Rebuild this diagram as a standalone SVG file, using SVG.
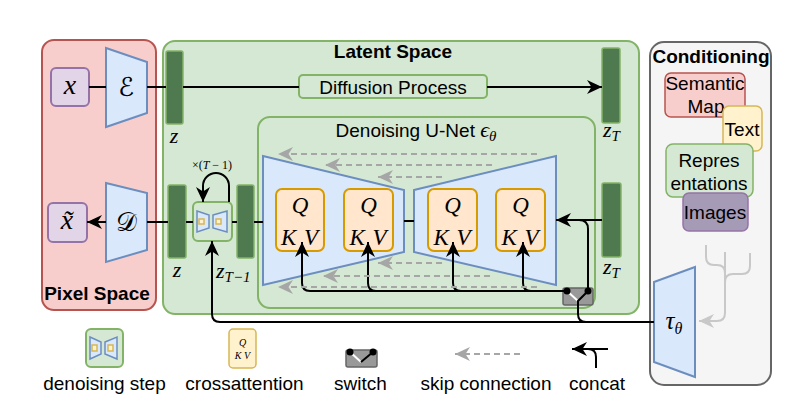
<svg xmlns="http://www.w3.org/2000/svg" width="792" height="409" viewBox="0 0 792 409">
<defs>
<marker id="arr" markerUnits="userSpaceOnUse" markerWidth="16" markerHeight="14" refX="15" refY="7" orient="auto"><path d="M0,0 L15,7 L0,14 L4.5,7 Z" fill="#000"/></marker>
<marker id="arrg" markerUnits="userSpaceOnUse" markerWidth="16" markerHeight="14" refX="15" refY="7" orient="auto"><path d="M0,0 L15,7 L0,14 L4.5,7 Z" fill="#a6a6a6"/></marker>
<marker id="arrl" markerUnits="userSpaceOnUse" markerWidth="16" markerHeight="14" refX="15" refY="7" orient="auto"><path d="M0,0 L15,7 L0,14 L4.5,7 Z" fill="#c8c8c8"/></marker>
</defs>
<style>
.sans{font-family:"Liberation Sans",Arial,sans-serif;font-size:19px;fill:#000}
.b{font-weight:bold}
.m{font-family:"Liberation Serif","DejaVu Serif",serif;font-style:italic;fill:#000}
.cal{font-family:"DejaVu Serif","DejaVu Sans","Noto Sans",serif;fill:#000}
.bar{fill:#4f7a50;stroke:#82b366;stroke-width:1.5}
.blue{fill:#dae8fc;stroke:#6c8ebf;stroke-width:2}
.qkv{fill:#ffe6cc;stroke:#d79b00;stroke-width:2}
.yel{fill:#fff2cc;stroke:#d6b656;stroke-width:1.5}
.grn{fill:#d5e8d4;stroke:#82b366;stroke-width:2}
.pur{fill:#e1d5e7;stroke:#9673a6;stroke-width:2}
.sw{fill:#999;stroke:#666;stroke-width:1.5}
.ln{fill:none;stroke:#000;stroke-width:2}
.skip{fill:none;stroke:#a6a6a6;stroke-width:2;stroke-dasharray:6 4}
.tree{fill:none;stroke:#c8c8c8;stroke-width:2}
</style>

<g id="pixel-space">
<rect x="42" y="40" width="114" height="270" rx="12" fill="#f8cecc" stroke="#b85450" stroke-width="2"/>
<text x="97" y="300" text-anchor="middle" class="sans b">Pixel Space</text>
</g>
<g id="latent-space">
<rect x="163" y="41" width="476" height="273" rx="12" class="grn"/>
<text x="393" y="58" text-anchor="middle" class="sans b">Latent Space</text>
</g>
<g id="conditioning">
<rect x="650" y="42" width="121" height="343" rx="14" fill="#f5f5f5" stroke="#666" stroke-width="2"/>
<text x="711" y="63" text-anchor="middle" class="sans b">Conditioning</text>
</g>

<g id="unet">
<rect x="258" y="117" width="337" height="191" rx="12" class="grn"/>
<text x="416" y="137" text-anchor="middle" class="sans">Denoising U-Net <tspan class="m" font-size="22">ϵ</tspan><tspan class="m" font-size="15" dy="4">θ</tspan></text>
<polygon points="263,156 404,190 404,252 263,285" class="blue"/>
<polygon points="414,190 556,156 556,285 414,252" class="blue"/>
</g>

<g id="qkv1"><rect x="276" y="189" width="48" height="62" rx="6" class="qkv"/><text x="300" y="213" text-anchor="middle" class="m" font-size="23">Q</text><text x="300" y="245" text-anchor="middle" class="m" font-size="23" letter-spacing="1">K V</text></g>
<g id="qkv2"><rect x="344" y="189" width="49" height="62" rx="6" class="qkv"/><text x="368.5" y="213" text-anchor="middle" class="m" font-size="23">Q</text><text x="368.5" y="245" text-anchor="middle" class="m" font-size="23" letter-spacing="1">K V</text></g>
<g id="qkv3"><rect x="428" y="189" width="49" height="62" rx="6" class="qkv"/><text x="452.5" y="213" text-anchor="middle" class="m" font-size="23">Q</text><text x="452.5" y="245" text-anchor="middle" class="m" font-size="23" letter-spacing="1">K V</text></g>
<g id="qkv4"><rect x="496" y="189" width="49" height="62" rx="6" class="qkv"/><text x="520.5" y="213" text-anchor="middle" class="m" font-size="23">Q</text><text x="520.5" y="245" text-anchor="middle" class="m" font-size="23" letter-spacing="1">K V</text></g>

<g id="x"><rect x="51" y="68" width="38" height="38" rx="5" class="pur"/><text x="70" y="94" text-anchor="middle" class="m" font-size="28">x</text></g>
<g id="encoder"><polygon points="106,48 147,62 147,113 106,127" class="blue"/><text x="126" y="96" text-anchor="middle" class="cal" font-size="26">ℰ</text></g>
<g id="z-top"><rect x="166" y="51" width="17" height="73" rx="2" class="bar"/><text x="174" y="143" text-anchor="middle" class="m" font-size="22">z</text></g>
<g id="diffusion"><rect x="299" y="75" width="188" height="23" rx="4" class="grn"/><text x="393" y="94" text-anchor="middle" class="sans">Diffusion Process</text></g>
<g id="zT-top"><rect x="602" y="48" width="18" height="75" rx="2" class="bar"/><text x="603" y="137" class="m" font-size="22">z<tspan font-size="15" dy="4">T</tspan></text></g>

<g id="x-tilde"><rect x="48" y="203" width="39" height="39" rx="5" class="pur"/><text x="67" y="229" text-anchor="middle" class="m" font-size="28">x̃</text></g>
<g id="decoder"><polygon points="106,183 147,193 147,250 106,262" class="blue"/><text x="126" y="231" text-anchor="middle" class="cal" font-size="26">𝒟</text></g>
<g id="z-bottom"><rect x="168" y="185" width="18" height="73" rx="2" class="bar"/><text x="177" y="277" text-anchor="middle" class="m" font-size="22">z</text></g>
<g id="denoising-step">
<rect x="193" y="202" width="39" height="39" rx="5" class="grn"/>
<polygon points="197,211 209,215 209,228 197,232" fill="#dae8fc" stroke="#6c8ebf" stroke-width="1.5"/>
<polygon points="213,215 227,211 227,232 213,228" fill="#dae8fc" stroke="#6c8ebf" stroke-width="1.5"/>
<rect x="199" y="219" width="5" height="5" class="yel"/>
<rect x="216" y="219" width="5" height="5" class="yel"/>
<text x="212" y="169" text-anchor="middle" font-family="Liberation Serif,serif" font-size="12">×(<tspan font-style="italic">T</tspan> − 1)</text>
</g>
<g id="zT1"><rect x="237" y="185" width="17" height="73" rx="2" class="bar"/><text x="216" y="278" class="m" font-size="22">z<tspan font-size="15" dy="4">T−1</tspan></text></g>
<g id="zT-bottom"><rect x="602" y="183" width="19" height="74" rx="2" class="bar"/><text x="603" y="274" class="m" font-size="22">z<tspan font-size="15" dy="4">T</tspan></text></g>

<g id="switch">
<rect x="563" y="288" width="30" height="17" rx="2" class="sw"/>
<line x1="567" y1="291" x2="578" y2="301" stroke="#fff" stroke-width="2"/>
</g>

<g id="semantic-map"><rect x="665" y="73" width="80" height="44" rx="6" fill="#f8cecc" stroke="#b85450" stroke-width="1.5"/><text x="705" y="90" text-anchor="middle" class="sans">Semantic</text><text x="706" y="113" text-anchor="middle" class="sans">Map</text></g>
<g id="text-cond"><rect x="723" y="106" width="39" height="45" rx="6" class="yel"/><text x="742" y="136" text-anchor="middle" class="sans">Text</text></g>
<g id="representations"><rect x="666" y="144" width="87" height="53" rx="7" fill="#d5e8d4" stroke="#82b366" stroke-width="1.5"/><text x="709" y="167" text-anchor="middle" class="sans">Repres</text><text x="709" y="190" text-anchor="middle" class="sans">entations</text></g>
<g id="images"><rect x="683" y="193" width="65" height="38" rx="6" fill="#a59bb6" stroke="#9673a6" stroke-width="1.5"/><text x="715" y="219" text-anchor="middle" class="sans">Images</text></g>
<g id="tau"><polygon points="654,282 695,267 695,377 654,362" class="blue"/><text x="674" y="329" text-anchor="middle" class="m" font-size="25">τ<tspan font-size="16" dy="5">θ</tspan></text></g>

<g id="connectors">
<path d="M89 87 H106 M147 87 H166 M183 87 H299" class="ln"/>
<path d="M487 87 H602" class="ln" marker-end="url(#arr)"/>
<path d="M106 222 H87" class="ln" marker-end="url(#arr)"/>
<path d="M147 222 H168 M186 222 H193 M232 222 H237 M254 222 H263 M404 221 H414" class="ln"/>
<path d="M229 202 V186 A13 13 0 0 0 203 186 V202" class="ln" marker-end="url(#arr)"/>
<path d="M654 322 H220 Q212 322 212 314 V241" class="ln" marker-end="url(#arr)"/>
<path d="M586 322 Q578 322 578 314 V301 L588 291" class="ln"/>
<path d="M567 291 H310 Q302 291 302 283 V242" class="ln" marker-end="url(#arr)"/>
<path d="M376 291 Q368 291 368 283 V242" class="ln" marker-end="url(#arr)"/>
<path d="M461 291 Q453 291 453 283 V242" class="ln" marker-end="url(#arr)"/>
<path d="M531 291 Q523 291 523 283 V242" class="ln" marker-end="url(#arr)"/>
<path d="M602 220 H556" class="ln" marker-end="url(#arr)"/>
<path d="M588 291 V229 Q588 220 579 220" class="ln"/>
<circle cx="567" cy="291" r="3.5" fill="#000"/>
<circle cx="588" cy="291" r="3.5" fill="#000"/>
<path d="M537 154 H278" class="skip" marker-end="url(#arrg)"/>
<path d="M492 165 H325" class="skip" marker-end="url(#arrg)"/>
<path d="M442 177 H378" class="skip" marker-end="url(#arrg)"/>
<path d="M442 263 H378" class="skip" marker-end="url(#arrg)"/>
<path d="M490 276 H323" class="skip" marker-end="url(#arrg)"/>
<path d="M537 287 H278" class="skip" marker-end="url(#arrg)"/>
<path d="M706 245 V257 Q706 265 714 265 H717 Q725 265 725 273" class="tree"/>
<path d="M750 253 V266 Q750 274 742 274 H733 Q725 274 725 282" class="tree"/>
<path d="M725 252 V313 Q725 321 717 321 H699" class="tree" marker-end="url(#arrl)"/>
</g>

<g id="legend">
<g id="legend-denoising">
<rect x="86" y="329" width="37" height="38" rx="5" class="grn"/>
<polygon points="90,337 101,342 101,354 90,359" fill="#dae8fc" stroke="#6c8ebf" stroke-width="1.5"/>
<polygon points="105,342 117,337 117,359 105,354" fill="#dae8fc" stroke="#6c8ebf" stroke-width="1.5"/>
<rect x="92" y="345" width="5" height="6" class="yel"/>
<rect x="108" y="345" width="5" height="6" class="yel"/>
<text x="104.5" y="390" text-anchor="middle" class="sans">denoising step</text>
</g>
<g id="legend-cross">
<rect x="229" y="329" width="27" height="39" rx="4" class="yel"/>
<text x="242.5" y="346" text-anchor="middle" class="m" font-size="10">Q</text>
<text x="242.5" y="359" text-anchor="middle" class="m" font-size="10">K V</text>
<text x="244.5" y="390" text-anchor="middle" class="sans">crossattention</text>
</g>
<g id="legend-switch">
<rect x="346" y="350" width="31" height="17" rx="2" class="sw"/>
<line x1="350" y1="352" x2="361" y2="362" stroke="#fff" stroke-width="2"/>
<line x1="361" y1="362" x2="373" y2="352" stroke="#000" stroke-width="2"/>
<circle cx="350" cy="352" r="3.5" fill="#000"/>
<circle cx="373" cy="352" r="3.5" fill="#000"/>
<text x="360.5" y="390" text-anchor="middle" class="sans">switch</text>
</g>
<g id="legend-skip">
<path d="M520 354 H455" class="skip" marker-end="url(#arrg)"/>
<text x="486" y="390" text-anchor="middle" class="sans">skip connection</text>
</g>
<g id="legend-concat">
<path d="M608 349 H572" class="ln" marker-end="url(#arr)"/>
<path d="M596 368 V357 Q596 349 588 349" class="ln"/>
<text x="597" y="390" text-anchor="middle" class="sans">concat</text>
</g>
</g>
</svg>
